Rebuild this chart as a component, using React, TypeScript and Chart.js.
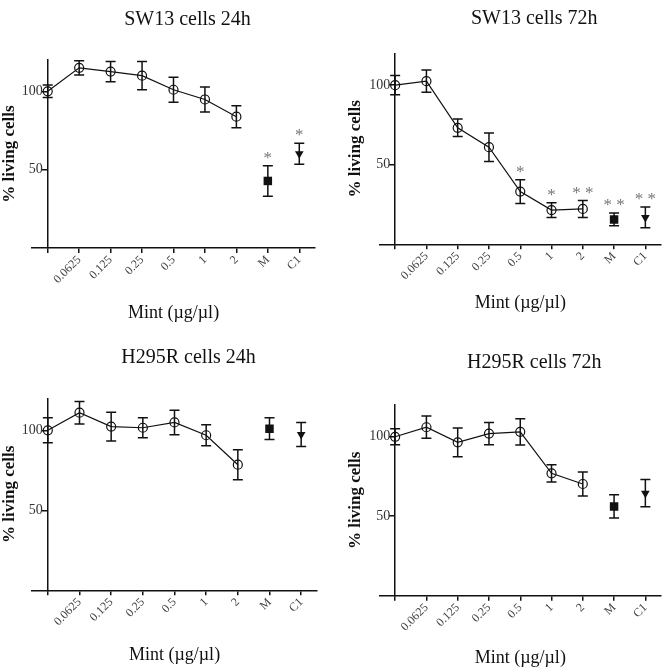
import React, { useEffect, useRef } from 'react';
import { Chart, registerables } from 'chart.js';

Chart.register(...registerables);

// ---------------- data ----------------
const categories = ['0', '0.0625', '0.125', '0.25', '0.5', '1', '2', 'M', 'C1'];
const tickLabels = ['', '0.0625', '0.125', '0.25', '0.5', '1', '2', 'M', 'C1'];
const yTickValues = [50, 100];
const xAxisTitle = 'Mint (µg/µl)';
const yAxisTitle = '% living cells';

const sw13h24Title = 'SW13 cells 24h';
const sw13h24Mean = [100, 115, 112.6, 110, 101, 94.8, 83.8, 42.8, 60.2];
const sw13h24Err = [4, 4.6, 6.5, 9, 8, 8, 7, 9.7, 6.7];
const sw13h24Sig = ['', '', '', '', '', '', '', '*', '*'];

const sw13h72Title = 'SW13 cells 72h';
const sw13h72Mean = [100, 102.5, 73.2, 61, 33.1, 21.5, 22.2, 15.6, 16.9];
const sw13h72Err = [6, 7, 5.5, 9, 7.4, 4.6, 5.3, 4, 6.5];
const sw13h72Sig = ['', '', '', '', '*', '*', '* *', '* *', '* *'];

const h295h24Title = 'H295R cells 24h';
const h295h24Mean = [100, 111, 102.3, 101.6, 104.9, 96.9, 78.5, 101, 97.3];
const h295h24Err = [7.8, 7, 9, 6.3, 7.7, 6.5, 9.4, 6.8, 7.5];
const h295h24Sig = ['', '', '', '', '', '', '', '', ''];

const h295h72Title = 'H295R cells 72h';
const h295h72Mean = [100, 106, 96.5, 102, 103.1, 77, 70.3, 56.2, 64.5];
const h295h72Err = [5, 7, 9, 7, 8.3, 5.4, 7.6, 7.3, 8.6];
const h295h72Sig = ['', '', '', '', '', '', '', '', ''];

// ---------------- layout (positions only) ----------------
type Layout = {
  x: number; y: number; w: number; h: number;
  l: number; r: number; t: number; b: number;
  titleY: number; xTitleY: number; yTitleX: number;
};

const layouts: Layout[] = [
  { x: 0, y: 0, w: 333, h: 335, l: 32, r: 315, t: 60, b: 248, titleY: 25, xTitleY: 318, yTitleX: 10 },
  { x: 333, y: 0, w: 334, h: 335, l: 46.5, r: 330, t: 53.3, b: 244.3, titleY: 24, xTitleY: 308, yTitleX: 22.5 },
  { x: 0, y: 335, w: 333, h: 336, l: 32, r: 317, t: 63.3, b: 255.3, titleY: 28.3, xTitleY: 325, yTitleX: 10 },
  { x: 333, y: 335, w: 334, h: 336, l: 46.5, r: 330, t: 70, b: 260.7, titleY: 33.3, xTitleY: 328, yTitleX: 22.5 },
];

type PanelData = { title: string; mean: number[]; err: number[]; sig: string[] };

const panelsData: PanelData[] = [
  { title: sw13h24Title, mean: sw13h24Mean, err: sw13h24Err, sig: sw13h24Sig },
  { title: sw13h72Title, mean: sw13h72Mean, err: sw13h72Err, sig: sw13h72Sig },
  { title: h295h24Title, mean: h295h24Mean, err: h295h24Err, sig: h295h24Sig },
  { title: h295h72Title, mean: h295h72Mean, err: h295h72Err, sig: h295h72Sig },
];

const SERIF = '"Liberation Serif", "Times New Roman", serif';
const INK = '#111';

function makeDecor(d: PanelData, lay: Layout) {
  return {
    id: 'decor',
    beforeDatasetsDraw(chart: any) {
      const { ctx, scales } = chart;
      const xs = scales.x, ys = scales.y;
      ctx.save();
      ctx.strokeStyle = INK;
      ctx.lineWidth = 1.5;
      d.mean.forEach((m, i) => {
        const px = xs.getPixelForValue(i);
        const t = ys.getPixelForValue(m + d.err[i]);
        const b = ys.getPixelForValue(m - d.err[i]);
        ctx.beginPath();
        ctx.moveTo(px, t); ctx.lineTo(px, b);
        ctx.moveTo(px - 5, t); ctx.lineTo(px + 5, t);
        ctx.moveTo(px - 5, b); ctx.lineTo(px + 5, b);
        ctx.stroke();
      });
      ctx.restore();
    },
    afterDraw(chart: any) {
      const { ctx, scales, chartArea } = chart;
      const xs = scales.x, ys = scales.y;
      ctx.save();
      // significance marks
      ctx.fillStyle = '#777';
      ctx.font = `17px ${SERIF}`;
      ctx.textAlign = 'center';
      ctx.textBaseline = 'alphabetic';
      d.mean.forEach((m, i) => {
        if (!d.sig[i]) return;
        const px = xs.getPixelForValue(i);
        const t = ys.getPixelForValue(m + d.err[i]);
        ctx.fillText(d.sig[i], px, t - 3);
      });
      // y tick labels
      const axisX = xs.getPixelForValue(0);
      ctx.fillStyle = '#333';
      ctx.font = `14px ${SERIF}`;
      ctx.textAlign = 'right';
      ctx.textBaseline = 'middle';
      yTickValues.forEach((v) => {
        ctx.fillText(String(v), axisX - 5, ys.getPixelForValue(v));
      });
      // title
      const cx = (chartArea.left + chartArea.right) / 2;
      ctx.fillStyle = INK;
      ctx.font = `20px ${SERIF}`;
      ctx.textAlign = 'center';
      ctx.textBaseline = 'alphabetic';
      ctx.fillText(d.title, cx + 14, lay.titleY);
      // x title
      ctx.font = `18px ${SERIF}`;
      ctx.fillText(xAxisTitle, cx, lay.xTitleY);
      // y title
      const cy = (chartArea.top + chartArea.bottom) / 2;
      ctx.translate(lay.yTitleX, cy);
      ctx.rotate(-Math.PI / 2);
      ctx.font = `bold 17px ${SERIF}`;
      ctx.textBaseline = 'middle';
      ctx.fillText(yAxisTitle, 0, 0);
      ctx.restore();
    },
  };
}

function Panel({ d, lay }: { d: PanelData; lay: Layout }) {
  const ref = useRef<HTMLCanvasElement | null>(null);
  useEffect(() => {
    const canvas = ref.current;
    if (!canvas) return;
    const lineIdx = [0, 1, 2, 3, 4, 5, 6];
    const chart = new Chart(canvas, {
      type: 'line',
      data: {
        datasets: [
          {
            label: 'Mint',
            data: lineIdx.map((i) => ({ x: i, y: d.mean[i] })),
            borderColor: INK,
            borderWidth: 1.2,
            backgroundColor: 'rgba(0,0,0,0)',
            pointStyle: 'circle',
            pointRadius: 4.5,
            pointBorderWidth: 1.2,
            pointBorderColor: INK,
            pointBackgroundColor: 'rgba(0,0,0,0)',
            tension: 0,
          },
          {
            label: categories[7],
            data: [{ x: 7, y: d.mean[7] }],
            showLine: false,
            pointStyle: 'rect',
            pointRadius: 6,
            pointBorderWidth: 0,
            pointBackgroundColor: INK,
            pointBorderColor: INK,
          },
          {
            label: categories[8],
            data: [{ x: 8, y: d.mean[8] }],
            showLine: false,
            pointStyle: 'triangle',
            pointRotation: 180,
            pointRadius: 5,
            pointBorderWidth: 0,
            pointBackgroundColor: INK,
            pointBorderColor: INK,
          },
        ],
      },
      options: {
        animation: false,
        responsive: false,
        devicePixelRatio: 1,
        events: [],
        layout: { padding: { left: lay.l, top: lay.t, right: lay.w - lay.r, bottom: 0 } },
        plugins: { legend: { display: false }, title: { display: false }, tooltip: { enabled: false } },
        scales: {
          x: {
            type: 'linear',
            position: 'bottom',
            min: -0.5,
            max: 8.5,
            afterBuildTicks: (s: any) => { s.ticks = categories.map((_, i) => ({ value: i })); },
            afterFit: (s: any) => { s.height = lay.h - lay.b; },
            ticks: {
              autoSkip: false,
              minRotation: 45,
              maxRotation: 45,
              padding: 0,
              color: '#444',
              font: { family: SERIF, size: 12 },
              callback: (v: any) => tickLabels[Number(v)] ?? '',
            },
            grid: { display: true, drawOnChartArea: false, drawTicks: true, tickLength: 5, color: INK, lineWidth: 1.5 },
            border: { display: true, color: INK, width: 1.5 },
          },
          y: {
            type: 'linear',
            position: { x: 0 } as any,
            min: 0,
            max: 120,
            afterBuildTicks: (s: any) => { s.ticks = yTickValues.map((v) => ({ value: v })); },
            ticks: { display: false },
            grid: { display: true, drawOnChartArea: false, drawTicks: true, tickLength: 5, color: INK, lineWidth: 1.5 },
            border: { display: true, color: INK, width: 1.5 },
          },
        },
      },
      plugins: [makeDecor(d, lay)],
    } as any);
    return () => chart.destroy();
  }, [d, lay]);
  return (
    <canvas
      ref={ref}
      width={lay.w}
      height={lay.h}
      style={{ position: 'absolute', left: lay.x, top: lay.y, width: lay.w, height: lay.h }}
    />
  );
}

export default function App() {
  return (
    <div style={{ position: 'absolute', left: 0, top: 0, width: 667, height: 671, background: '#fff' }}>
      {panelsData.map((d, i) => (
        <Panel key={i} d={d} lay={layouts[i]} />
      ))}
    </div>
  );
}
